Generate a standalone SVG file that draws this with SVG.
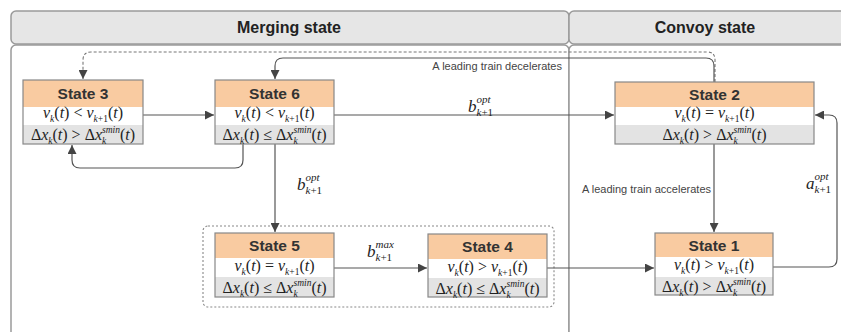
<svg xmlns="http://www.w3.org/2000/svg" width="841" height="332" viewBox="0 0 841 332">
<defs>
<style>
.hdr{fill:#e6e6e6;stroke:#9a9a9a;stroke-width:1.5}
.body{fill:#fff;stroke:#9a9a9a;stroke-width:1.5}
.title{font-family:"Liberation Sans",Arial,sans-serif;font-weight:bold;font-size:16px;fill:#222;text-anchor:middle}
.sh{fill:#f9cba1}
.r1{fill:#fff}
.r2{fill:#e3e3e3}
.ol{fill:none;stroke:#888;stroke-width:1.2}
.st{font-family:"Liberation Sans",Arial,sans-serif;font-weight:bold;font-size:15.5px;fill:#333;text-anchor:middle}
.m{font-family:"Liberation Serif","Times New Roman",serif;font-size:16px;fill:#222;text-anchor:middle}
.ml{font-family:"Liberation Serif","Times New Roman",serif;font-size:17px;fill:#222}
.it{font-style:italic}
.sb{font-size:9.5px}
.sl{font-size:11px}
.lbl{font-family:"Liberation Sans",Arial,sans-serif;font-size:11px;fill:#444;text-anchor:end}
.conn{fill:none;stroke:#555;stroke-width:1.2}
.dash{fill:none;stroke:#777;stroke-width:1.1;stroke-dasharray:3 2}
.grp{fill:none;stroke:#888;stroke-width:1.1;stroke-dasharray:2 2}
</style>
<marker id="ah" viewBox="0 0 10 10" refX="10" refY="5" markerWidth="9" markerHeight="9" markerUnits="userSpaceOnUse" orient="auto">
<path d="M0,0 L10,5 L0,10 z" fill="#444"/>
</marker>
</defs>

<g id="lanes">
<rect class="body" x="11" y="45" width="558" height="300" rx="5"/>
<rect class="body" x="569" y="45" width="290" height="300" rx="5"/>
<rect class="hdr" x="11" y="11" width="558" height="33" rx="5"/>
<rect class="hdr" x="569" y="11" width="290" height="33" rx="5"/>
<text class="title" x="289" y="33">Merging state</text>
<text class="title" x="705" y="33">Convoy state</text>
</g>

<rect id="group-5-4" class="grp" x="203" y="226" width="351" height="81" rx="5"/>

<g id="connectors">
<path class="dash" d="M715,82 V60 Q715,52 707,52 H91 Q83,52 83,60 V79" marker-end="url(#ah)"/>
<path class="conn" d="M714,82 V66 Q714,58 706,58 H283 Q275,58 275,66 V79" marker-end="url(#ah)"/>
<path class="conn" d="M143,115 H214" marker-end="url(#ah)"/>
<path class="conn" d="M243,144 V160 Q243,168 235,168 H80 Q72,168 72,160 V145" marker-end="url(#ah)"/>
<path class="conn" d="M275,144 V232" marker-end="url(#ah)"/>
<path class="conn" d="M334,115 H614" marker-end="url(#ah)"/>
<path class="conn" d="M334,268 H427" marker-end="url(#ah)"/>
<path class="conn" d="M547,268 H654" marker-end="url(#ah)"/>
<path class="conn" d="M714,144 V232" marker-end="url(#ah)"/>
<path class="conn" d="M773,267 H829 Q837,267 837,259 V123 Q837,115 829,115 H815" marker-end="url(#ah)"/>
<text class="lbl" x="562" y="70">A leading train decelerates</text>
<text class="lbl" x="711" y="193">A leading train accelerates</text>
<text class="ml" x="468" y="112"><tspan class="it">b</tspan><tspan class="sl it" dy="4">k</tspan><tspan class="sl">+1</tspan><tspan class="sl it" dx="-16.6" dy="-13">opt</tspan></text>
<text class="ml" x="297" y="190"><tspan class="it">b</tspan><tspan class="sl it" dy="4">k</tspan><tspan class="sl">+1</tspan><tspan class="sl it" dx="-16.6" dy="-13">opt</tspan></text>
<text class="ml" x="367" y="257"><tspan class="it">b</tspan><tspan class="sl it" dy="4">k</tspan><tspan class="sl">+1</tspan><tspan class="sl it" dx="-16.6" dy="-13">max</tspan></text>
<text class="ml" x="806" y="189"><tspan class="it">a</tspan><tspan class="sl it" dy="4">k</tspan><tspan class="sl">+1</tspan><tspan class="sl it" dx="-16.6" dy="-13">opt</tspan></text>
</g>

<g id="state3">
<rect class="sh" x="23" y="80" width="120" height="27"/>
<rect class="r1" x="23" y="107" width="120" height="18"/>
<rect class="r2" x="23" y="125" width="120" height="19"/>
<rect class="ol" x="23" y="80" width="120" height="64"/>
<text class="st" x="83" y="99">State 3</text>
<text class="m" x="83" y="118"><tspan class="it">v</tspan><tspan class="sb it" dy="4">k</tspan><tspan dy="-4">(</tspan><tspan class="it">t</tspan>) &lt; <tspan class="it">v</tspan><tspan class="sb it" dy="4">k</tspan><tspan class="sb">+1</tspan><tspan dy="-4">(</tspan><tspan class="it">t</tspan>)</text>
<text class="m" x="83" y="140">Δ<tspan class="it">x</tspan><tspan class="sb it" dy="4">k</tspan><tspan dy="-4">(</tspan><tspan class="it">t</tspan>) &gt; Δ<tspan class="it">x</tspan><tspan class="sb it" dy="4">k</tspan><tspan class="sb it" dx="-4.2" dy="-11">smin</tspan><tspan dy="7">(</tspan><tspan class="it">t</tspan>)</text>
</g>

<g id="state6">
<rect class="sh" x="215" y="80" width="119" height="27"/>
<rect class="r1" x="215" y="107" width="119" height="18"/>
<rect class="r2" x="215" y="125" width="119" height="19"/>
<rect class="ol" x="215" y="80" width="119" height="64"/>
<text class="st" x="274.5" y="99">State 6</text>
<text class="m" x="274.5" y="118"><tspan class="it">v</tspan><tspan class="sb it" dy="4">k</tspan><tspan dy="-4">(</tspan><tspan class="it">t</tspan>) &lt; <tspan class="it">v</tspan><tspan class="sb it" dy="4">k</tspan><tspan class="sb">+1</tspan><tspan dy="-4">(</tspan><tspan class="it">t</tspan>)</text>
<text class="m" x="274.5" y="140">Δ<tspan class="it">x</tspan><tspan class="sb it" dy="4">k</tspan><tspan dy="-4">(</tspan><tspan class="it">t</tspan>) ≤ Δ<tspan class="it">x</tspan><tspan class="sb it" dy="4">k</tspan><tspan class="sb it" dx="-4.2" dy="-11">smin</tspan><tspan dy="7">(</tspan><tspan class="it">t</tspan>)</text>
</g>

<g id="state2">
<rect class="sh" x="615" y="82" width="199" height="25"/>
<rect class="r1" x="615" y="107" width="199" height="18"/>
<rect class="r2" x="615" y="125" width="199" height="19"/>
<rect class="ol" x="615" y="82" width="199" height="62"/>
<text class="st" x="714.5" y="100">State 2</text>
<text class="m" x="714.5" y="118"><tspan class="it">v</tspan><tspan class="sb it" dy="4">k</tspan><tspan dy="-4">(</tspan><tspan class="it">t</tspan>) = <tspan class="it">v</tspan><tspan class="sb it" dy="4">k</tspan><tspan class="sb">+1</tspan><tspan dy="-4">(</tspan><tspan class="it">t</tspan>)</text>
<text class="m" x="714.5" y="140">Δ<tspan class="it">x</tspan><tspan class="sb it" dy="4">k</tspan><tspan dy="-4">(</tspan><tspan class="it">t</tspan>) &gt; Δ<tspan class="it">x</tspan><tspan class="sb it" dy="4">k</tspan><tspan class="sb it" dx="-4.2" dy="-11">smin</tspan><tspan dy="7">(</tspan><tspan class="it">t</tspan>)</text>
</g>

<g id="state5">
<rect class="sh" x="215" y="233" width="119" height="25"/>
<rect class="r1" x="215" y="258" width="119" height="19"/>
<rect class="r2" x="215" y="277" width="119" height="20"/>
<rect class="ol" x="215" y="233" width="119" height="64"/>
<text class="st" x="274.5" y="251">State 5</text>
<text class="m" x="274.5" y="271"><tspan class="it">v</tspan><tspan class="sb it" dy="4">k</tspan><tspan dy="-4">(</tspan><tspan class="it">t</tspan>) = <tspan class="it">v</tspan><tspan class="sb it" dy="4">k</tspan><tspan class="sb">+1</tspan><tspan dy="-4">(</tspan><tspan class="it">t</tspan>)</text>
<text class="m" x="274.5" y="293">Δ<tspan class="it">x</tspan><tspan class="sb it" dy="4">k</tspan><tspan dy="-4">(</tspan><tspan class="it">t</tspan>) ≤ Δ<tspan class="it">x</tspan><tspan class="sb it" dy="4">k</tspan><tspan class="sb it" dx="-4.2" dy="-11">smin</tspan><tspan dy="7">(</tspan><tspan class="it">t</tspan>)</text>
</g>

<g id="state4">
<rect class="sh" x="428" y="234" width="119" height="25"/>
<rect class="r1" x="428" y="259" width="119" height="19"/>
<rect class="r2" x="428" y="278" width="119" height="19"/>
<rect class="ol" x="428" y="234" width="119" height="63"/>
<text class="st" x="487.5" y="252">State 4</text>
<text class="m" x="487.5" y="272"><tspan class="it">v</tspan><tspan class="sb it" dy="4">k</tspan><tspan dy="-4">(</tspan><tspan class="it">t</tspan>) &gt; <tspan class="it">v</tspan><tspan class="sb it" dy="4">k</tspan><tspan class="sb">+1</tspan><tspan dy="-4">(</tspan><tspan class="it">t</tspan>)</text>
<text class="m" x="487.5" y="294">Δ<tspan class="it">x</tspan><tspan class="sb it" dy="4">k</tspan><tspan dy="-4">(</tspan><tspan class="it">t</tspan>) ≤ Δ<tspan class="it">x</tspan><tspan class="sb it" dy="4">k</tspan><tspan class="sb it" dx="-4.2" dy="-11">smin</tspan><tspan dy="7">(</tspan><tspan class="it">t</tspan>)</text>
</g>

<g id="state1">
<rect class="sh" x="655" y="233" width="118" height="24"/>
<rect class="r1" x="655" y="257" width="118" height="20"/>
<rect class="r2" x="655" y="277" width="118" height="18"/>
<rect class="ol" x="655" y="233" width="118" height="62"/>
<text class="st" x="714" y="251">State 1</text>
<text class="m" x="714" y="270"><tspan class="it">v</tspan><tspan class="sb it" dy="4">k</tspan><tspan dy="-4">(</tspan><tspan class="it">t</tspan>) &gt; <tspan class="it">v</tspan><tspan class="sb it" dy="4">k</tspan><tspan class="sb">+1</tspan><tspan dy="-4">(</tspan><tspan class="it">t</tspan>)</text>
<text class="m" x="714" y="292">Δ<tspan class="it">x</tspan><tspan class="sb it" dy="4">k</tspan><tspan dy="-4">(</tspan><tspan class="it">t</tspan>) &gt; Δ<tspan class="it">x</tspan><tspan class="sb it" dy="4">k</tspan><tspan class="sb it" dx="-4.2" dy="-11">smin</tspan><tspan dy="7">(</tspan><tspan class="it">t</tspan>)</text>
</g>
</svg>
